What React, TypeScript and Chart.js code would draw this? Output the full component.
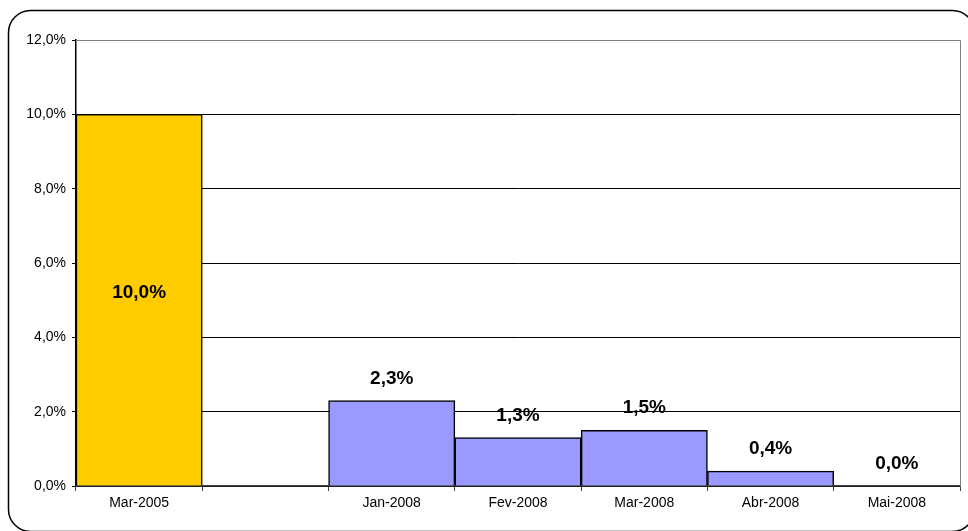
import React, { useEffect, useRef } from "react";
import { Chart, registerables } from "chart.js";

Chart.register(...registerables);

const categories = ["Mar-2005", "", "Jan-2008", "Fev-2008", "Mar-2008", "Abr-2008", "Mai-2008"];
const values: (number | null)[] = [10.0, null, 2.3, 1.3, 1.5, 0.4, 0.0];
const barColors = ["#FFCC00", "#9999FF", "#9999FF", "#9999FF", "#9999FF", "#9999FF", "#9999FF"];
const labelInside = [true, false, false, false, false, false, false];
const yTicks = [0, 2, 4, 6, 8, 10, 12];

const fmt = (v: number) => v.toFixed(1).replace(".", ",") + "%";

const framePlugin = {
  id: "frame",
  beforeDraw(chart: any) {
    const ctx = chart.ctx;
    ctx.save();
    ctx.fillStyle = "#ffffff";
    ctx.fillRect(0, 0, chart.width, chart.height);
    ctx.beginPath();
    ctx.lineWidth = 1.5;
    ctx.strokeStyle = "#000000";
    (ctx as any).roundRect(8.5, 10.5, 966, 521, 22);
    ctx.stroke();
    ctx.restore();
  },
  afterDraw(chart: any) {
    const { ctx, chartArea } = chart;
    ctx.save();
    ctx.strokeStyle = "#808080";
    ctx.lineWidth = 1;
    ctx.beginPath();
    ctx.moveTo(chartArea.left, Math.round(chartArea.top) + 0.5);
    ctx.lineTo(Math.round(chartArea.right) + 0.5, Math.round(chartArea.top) + 0.5);
    ctx.lineTo(Math.round(chartArea.right) + 0.5, chartArea.bottom);
    ctx.stroke();
    // data labels
    const meta = chart.getDatasetMeta(0);
    ctx.fillStyle = "#000000";
    ctx.font = "bold 19px 'Liberation Sans', Arial, sans-serif";
    ctx.textAlign = "center";
    ctx.textBaseline = "middle";
    meta.data.forEach((bar: any, i: number) => {
      const v = values[i];
      if (v === null || v === undefined) return;
      const x = bar.x;
      let y: number;
      if (labelInside[i]) {
        y = (bar.y + bar.base) / 2 - 7;
      } else {
        y = bar.y - 22;
      }
      ctx.fillText(fmt(v), x, y);
    });
    ctx.restore();
  },
};

export default function App() {
  const ref = useRef<HTMLCanvasElement | null>(null);
  useEffect(() => {
    if (!ref.current) return;
    const chart = new Chart(ref.current, {
      type: "bar",
      data: {
        labels: categories,
        datasets: [
          {
            data: values as any,
            backgroundColor: barColors,
            borderColor: "#000000",
            borderWidth: 1.5,
            barPercentage: 1,
            categoryPercentage: 1,
          },
        ],
      },
      options: {
        animation: false,
        responsive: false,
        devicePixelRatio: 1,
        layout: { padding: { left: 0, top: 40, right: 8, bottom: 0 } },
        plugins: { legend: { display: false }, tooltip: { enabled: false } },
        scales: {
          x: {
            offset: true,
            grid: {
              offset: true,
              drawOnChartArea: false,
              drawTicks: true,
              tickLength: 5,
              color: "#404040",
            },
            border: { color: "#404040", width: 1.5 },
            ticks: {
              color: "#000000",
              font: { family: "'Liberation Sans', Arial, sans-serif", size: 14 },
              padding: 4,
              autoSkip: false,
              maxRotation: 0,
            },
            afterFit(scale: any) {
              scale.height = 45;
            },
          },
          y: {
            min: 0,
            max: 12,
            afterBuildTicks(scale: any) {
              scale.ticks = yTicks.map((v) => ({ value: v }));
            },
            grid: {
              color: (c: any) => (c.tick && c.tick.value === 12 ? "#808080" : "#000000"),
              lineWidth: 1,
              tickLength: 4,
              tickColor: "#000000",
            },
            border: { color: "#000000", width: 1.5 },
            ticks: {
              color: "#000000",
              font: { family: "'Liberation Sans', Arial, sans-serif", size: 14 },
              padding: 6,
              callback: (v: any) => fmt(Number(v)),
            },
            afterFit(scale: any) {
              scale.width = 76;
            },
          },
        },
      },
      plugins: [framePlugin],
    });
    return () => chart.destroy();
  }, []);
  return (
    <div style={{ position: "absolute", left: 0, top: 0, width: 968, height: 531 }}>
      <canvas ref={ref} width={968} height={531} style={{ width: 968, height: 531, display: "block" }} />
    </div>
  );
}
